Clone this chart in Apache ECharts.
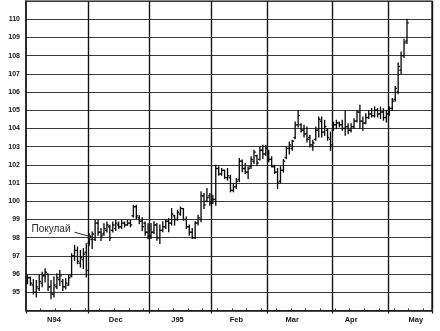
<!DOCTYPE html>
<html><head><meta charset="utf-8">
<script src="https://cdn.jsdelivr.net/npm/echarts@6/dist/echarts.min.js"></script>
<style>html,body{margin:0;padding:0;background:#fff}#c{width:440px;height:331px}</style>
</head><body><div id="c"></div>
<script>
// ---- data ----
const monthNames = ['N94','Dec','J95','Feb','Mar','Apr','May'];
const monthDays  = [21, 21, 21, 19, 22, 19, 15];
const yTickLabels = [95,96,97,98,99,100,101,102,103,104,105,106,107,108,109,110];
const annotationText = 'Покулай';

const highs = [
 95.93,95.84,95.70,95.65,95.93,96.10,96.30,96.00,95.65,95.84,96.02,96.20,95.70,95.75,95.93,97.12,97.58,97.49,97.30,97.40,97.67,
 98.22,98.31,98.95,98.95,98.50,98.77,98.86,98.68,98.86,98.95,98.86,98.95,98.86,98.95,98.95,99.78,99.78,99.20,99.10,98.86,98.77,
 98.78,98.87,98.78,98.69,98.87,98.96,99.05,99.60,99.23,99.51,99.69,99.60,99.14,98.69,98.50,98.87,99.23,100.52,100.43,100.70,100.43,
 100.33,101.98,101.89,101.80,101.71,101.80,101.43,100.98,101.25,102.35,102.26,102.07,101.89,102.44,102.80,102.53,102.99,103.08,103.08,
 102.80,102.44,101.98,101.80,101.90,102.30,102.98,103.25,103.35,104.35,104.99,104.26,104.17,104.08,103.62,103.35,104.08,104.63,104.63,104.45,103.99,103.80,
 104.35,104.45,104.35,104.45,104.99,104.26,104.26,104.53,104.99,105.27,104.63,104.81,104.99,105.09,105.18,105.09,105.18,105.09,104.99,
 105.18,105.64,106.30,107.60,108.20,108.90,110.00
];
const lows = [
 95.47,95.38,94.90,94.74,95.10,95.30,95.56,95.10,94.65,94.74,95.20,95.38,95.10,95.20,95.38,95.84,96.75,96.57,96.39,96.30,95.84,
 97.58,97.40,97.85,98.13,97.85,98.13,98.31,97.85,98.31,98.40,98.50,98.50,98.59,98.68,98.60,99.13,99.05,98.77,98.40,98.13,97.94,
 97.95,98.23,97.86,97.68,98.32,98.50,98.32,98.69,98.69,98.96,99.23,98.96,98.50,98.14,97.95,97.95,98.69,98.87,99.60,99.97,99.78,
 99.88,99.78,101.43,101.43,101.25,101.16,100.52,100.52,100.70,101.07,101.62,101.53,101.25,101.80,102.07,101.98,102.26,102.35,102.53,
 102.17,101.89,101.53,100.70,101.00,101.60,102.34,102.60,102.80,103.44,104.08,103.80,103.53,103.26,102.98,102.80,103.35,103.53,103.53,103.62,103.35,102.80,
 103.90,103.99,104.08,103.90,103.62,103.71,103.80,103.99,104.35,103.99,103.90,104.26,104.54,104.63,104.63,104.63,104.54,104.45,104.35,
 104.72,104.99,105.50,105.90,107.00,107.90,108.66
];
const opens = [
 95.6,95.8,95.4,95.0,95.2,95.5,95.9,96.0,95.3,94.9,95.3,95.7,95.6,95.3,95.4,95.9,97.0,97.3,96.6,96.8,97.2,
 97.7,97.9,97.9,98.8,98.3,98.2,98.4,98.6,98.4,98.5,98.7,98.6,98.8,98.7,98.8,99.2,99.7,99.1,98.9,98.8,98.3,
 98.1,98.3,98.7,98.0,98.4,98.6,98.9,98.8,99.2,99.0,99.3,99.6,99.0,98.6,98.3,98.0,98.8,99.0,100.3,100.0,100.3,
 99.9,100.1,101.8,101.5,101.7,101.3,101.3,100.6,100.8,101.2,102.2,101.8,101.6,101.9,102.2,102.5,102.3,102.8,102.6,
 102.7,102.3,101.9,101.6,101.1,101.7,102.4,102.9,102.9,103.5,104.2,104.2,103.9,103.7,103.5,103.1,103.4,103.9,104.4,103.8,103.9,103.4,
 103.9,104.2,104.3,104.2,104.0,104.1,103.9,104.1,104.4,104.9,104.4,104.3,104.6,104.8,104.7,105.0,104.8,104.9,104.6,
 104.8,105.1,105.6,106.0,107.2,108.0,108.8
];
const closes = [
 95.8,95.5,95.0,95.3,95.6,95.9,96.1,95.3,94.9,95.4,95.8,95.9,95.3,95.5,95.8,97.0,97.3,96.7,96.9,97.1,96.2,
 98.0,98.2,98.8,98.3,98.1,98.5,98.7,98.0,98.7,98.8,98.6,98.8,98.7,98.8,98.7,99.7,99.2,98.9,98.6,98.3,98.1,
 98.3,98.7,98.0,98.4,98.6,98.9,98.8,99.3,99.0,99.4,99.6,99.0,98.6,98.3,98.0,98.8,99.1,100.3,99.8,100.2,99.9,
 100.1,101.8,101.5,101.7,101.3,101.4,100.6,100.8,101.1,102.2,101.8,101.6,101.8,102.3,102.7,102.1,102.8,102.6,102.9,
 102.3,101.9,101.6,101.0,101.7,102.2,102.9,103.1,103.3,104.2,104.7,103.9,103.7,103.4,103.1,103.2,103.9,104.5,103.8,104.1,103.5,103.1,
 104.2,104.3,104.2,104.0,104.1,103.9,104.1,104.4,104.9,104.4,104.3,104.6,104.8,104.7,105.0,104.8,104.9,104.6,104.8,
 105.1,105.5,106.2,107.4,108.0,108.7,109.8
];

// ---- build categories ----
const categories = [];
const monthStarts = new Set();
const labelAt = {};
const labelShift = [0, 0, 0, 0, -2, -2, 3];
let k = 0;
monthDays.forEach((n, m) => {
  monthStarts.add(k);
  const mid = k + Math.floor(n / 2) - 1 + labelShift[m];
  labelAt[mid] = monthNames[m];
  for (let d = 0; d < n; d++) { categories.push(monthNames[m] + '-' + (d + 1)); }
  k += n;
});
const ohlc = highs.map((h, i) => [i, opens[i], h, lows[i], closes[i]]);

const chart = echarts.init(document.getElementById('c'), null, {renderer: 'canvas'});
const ink = '#151515';
chart.setOption({
  animation: false,
  backgroundColor: '#ffffff',
  grid: {left: 26, right: 8, top: 1, bottom: 20.5, show: true, borderColor: ink, borderWidth: 1.2, backgroundColor: 'transparent'},
  xAxis: [{
    type: 'category', data: categories, boundaryGap: true,
    axisLine: {show: true, lineStyle: {color: ink, width: 1.5}},
    axisTick: {show: true, length: 3, interval: (i) => monthStarts.has(i), lineStyle: {color: ink, width: 1.2}},
    axisLabel: {
      show: true, interval: (i) => labelAt[i] !== undefined,
      formatter: (v, i) => labelAt[i] || '',
      color: '#151515', fontSize: 7.5, fontWeight: 'bold', fontFamily: 'Liberation Sans, Arial, sans-serif', margin: 5
    },
    splitLine: {show: true, interval: (i) => monthStarts.has(i) && i > 0, lineStyle: {color: ink, width: 1.4}}
  }, {
    type: 'category', data: categories, boundaryGap: true, position: 'bottom',
    axisLine: {show: false}, axisLabel: {show: false}, splitLine: {show: false},
    axisTick: {show: true, inside: true, length: 2, interval: (i) => i % 5 === 0, lineStyle: {color: '#333', width: 1}}
  }],
  yAxis: {
    type: 'value', min: 94, max: 111, interval: 1, position: 'left',
    axisLine: {show: true, lineStyle: {color: ink, width: 1.5}},
    axisTick: {show: false},
    axisLabel: {
      formatter: (v) => (yTickLabels.indexOf(v) >= 0 ? String(v) : ''),
      color: '#151515', fontSize: 7, fontWeight: 'bold', fontFamily: 'Liberation Sans, Arial, sans-serif', margin: 6
    },
    splitLine: {show: true, lineStyle: {color: '#3a3a3a', width: 1}}
  },
  series: [{
    type: 'custom',
    xAxisIndex: 0,
    data: ohlc,
    encode: {x: 0, y: [1, 2, 3, 4]},
    renderItem: function (params, api) {
      const x = api.value(0);
      const pO = api.coord([x, api.value(1)]);
      const pH = api.coord([x, api.value(2)]);
      const pL = api.coord([x, api.value(3)]);
      const pC = api.coord([x, api.value(4)]);
      const w = 1.8;
      const st = {stroke: '#0c0c0c', lineWidth: 1.35};
      return {type: 'group', children: [
        {type: 'line', shape: {x1: pH[0], y1: pH[1] - 0.5, x2: pL[0], y2: pL[1] + 0.5}, style: st},
        {type: 'line', shape: {x1: pO[0] - w, y1: pO[1], x2: pO[0], y2: pO[1]}, style: st},
        {type: 'line', shape: {x1: pC[0], y1: pC[1], x2: pC[0] + w, y2: pC[1]}, style: st}
      ]};
    },
    markPoint: {
      symbol: 'circle', symbolSize: 1, itemStyle: {color: 'rgba(0,0,0,0)'},
      label: {show: true, position: 'inside', formatter: annotationText, color: '#2a2a2a', fontSize: 10, fontFamily: 'Liberation Sans, Arial, sans-serif'},
      data: [{coord: [8, 98.49]}]
    },
    markLine: {
      silent: true, symbol: ['none', 'arrow'], symbolSize: 4,
      label: {show: false},
      lineStyle: {color: '#2a2a2a', width: 1, type: 'solid'},
      data: [[{coord: [16, 98.3]}, {coord: [22, 98.03]}]]
    }
  }]
});
</script></body></html>
